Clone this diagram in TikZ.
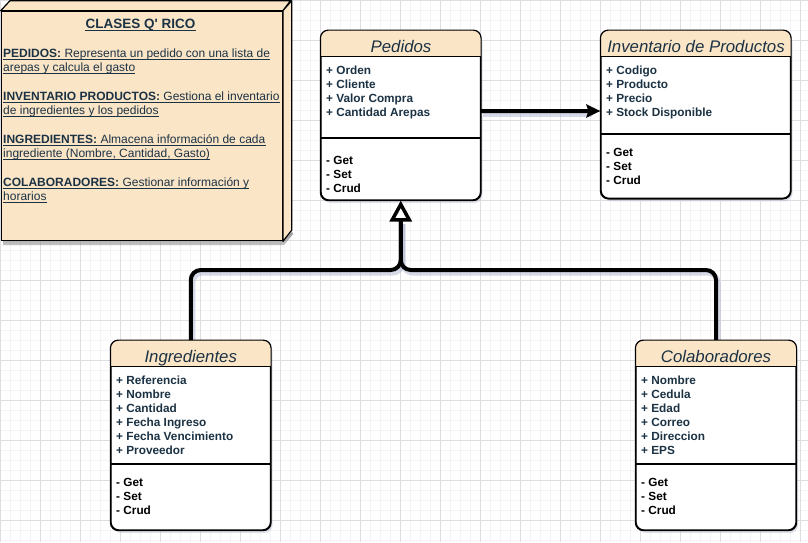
\documentclass[tikz,border=0pt]{standalone}
\usepackage{fontspec}
\setmainfont{Liberation Sans}
\usetikzlibrary{arrows.meta,shadows}
\definecolor{peach}{RGB}{251,229,199}
\definecolor{ink}{RGB}{27,50,68}
\definecolor{gridminor}{RGB}{244,244,247}
\definecolor{gridmajor}{RGB}{222,222,226}
\definecolor{shade}{RGB}{165,172,200}
\tikzset{
  classbox/.style={draw=black, line width=1.2pt, rounded corners=8pt, fill=white, inner sep=0pt,
    drop shadow={shadow xshift=2pt, shadow yshift=-3pt, fill=shade, opacity=0.35}},
  outline/.style={draw=black, line width=1.2pt, rounded corners=8pt},
  divider/.style={draw=black, line width=1.2pt},
  sepline/.style={draw=black, line width=1.8pt},
  attr/.style={font=\fontsize{11.8}{14}\selectfont\bfseries, text=ink, inner sep=0pt, anchor=base west},
  meth/.style={font=\fontsize{11.8}{14}\selectfont\bfseries, text=black, inner sep=0pt, anchor=base west},
  ctitle/.style={font=\fontsize{16.8}{20}\selectfont\itshape, text=ink, inner sep=0pt, anchor=base},
  notetxt/.style={font=\fontsize{12}{14}\selectfont, text=ink, inner sep=0pt, anchor=base west},
  notetitle/.style={font=\fontsize{13.5}{16}\selectfont\bfseries, text=ink, inner sep=0pt, anchor=base},
  uline/.style={draw=ink, line width=0.9pt},
  conn/.style={draw=black, line width=4pt, rounded corners=10pt},
  connshadow/.style={draw=shade, line width=5pt, rounded corners=10pt, opacity=0.45,
    transform canvas={shift={(2pt,-3pt)}}},
  notebox/.style={draw=black, line width=1.2pt, fill=peach, inner sep=0pt}
}
\begin{document}
\begin{tikzpicture}[x=1pt,y=-1pt]
\useasboundingbox (0,0) rectangle (808,542);
% background grid
\fill[white] (0,0) rectangle (808,542);
\foreach \x in {0,10,...,800} \draw[gridminor, line width=0.8pt] (\x,0) -- (\x,542);
\foreach \y in {0,10,...,540} \draw[gridminor, line width=0.8pt] (0,\y) -- (808,\y);
\foreach \x in {0,40,...,800} \draw[gridmajor, line width=0.8pt] (\x,0) -- (\x,542);
\foreach \y in {0,40,...,520} \draw[gridmajor, line width=0.8pt] (0,\y) -- (808,\y);

% ---------- note (3D box) ----------
\fill[shade, opacity=0.35] (3,240) -- (284,240) -- (292,232) -- (293,234) -- (284,245) -- (3,245) -- cycle;
\node[notebox, minimum width=281pt, minimum height=229.5pt, anchor=north west] (note) at (0.7,10.7) {};
\filldraw[fill=peach, draw=black, line width=1.2pt, line join=round]
  (note.north west) -- ++(9.3,-10) -- ++(280.5,0) -- (note.north east) -- cycle;
\filldraw[fill=peach, draw=black, line width=1.2pt, line join=round]
  (note.north east) -- ++(8.8,-10) -- ++(0,229.5) -- (note.south east) -- cycle;

\node[notetitle] (nt) at (140.5,28) {CLASES Q\textquotesingle{} RICO};
\draw[uline] ([yshift=-2pt]nt.base west) -- ([yshift=-2pt]nt.base east);

\node[notetxt] (n1) at (3,57) {\textbf{PEDIDOS:} Representa un pedido con una lista de};
\node[notetxt] (n2) at (3,71) {arepas y calcula el gasto};
\node[notetxt] (n3) at (3,100) {\textbf{INVENTARIO PRODUCTOS:} Gestiona el inventario};
\node[notetxt] (n4) at (3,114) {de ingredientes y los pedidos};
\node[notetxt] (n5) at (3,143) {\textbf{INGREDIENTES:} Almacena información de cada};
\node[notetxt] (n6) at (3,157) {ingrediente (Nombre, Cantidad, Gasto)};
\node[notetxt] (n7) at (3,186.5) {\textbf{COLABORADORES:} Gestionar información y};
\node[notetxt] (n8) at (3,200.5) {horarios\ };
\foreach \n in {n1,n2,n3,n4,n5,n6,n7,n8}
  \draw[uline] ([yshift=-2pt]\n.base west) -- ([yshift=-2pt]\n.base east);

% ---------- connector shadows ----------
\path (400.75,200) ++(0,70) coordinate (bus);
\draw[connshadow] (190.75,341) |- (bus) -- (400.75,221);
\draw[connshadow] (716,341) |- (bus) -- (400.75,221);
\draw[connshadow] (481,111) -- (590,111);

% ---------- class Pedidos ----------
\node[classbox, minimum width=159.5pt, minimum height=169.3pt] (ped) at (400.75,115.35) {};
\begin{scope}
  \clip[rounded corners=8pt] (ped.north west) rectangle (ped.south east);
  \fill[peach] (ped.north west) rectangle ([yshift=-26pt]ped.north east);
\end{scope}
\draw[divider] ([yshift=-26pt]ped.north west) -- ([yshift=-26pt]ped.north east);
\draw[sepline] ([yshift=-107.6pt]ped.north west) -- ([yshift=-107.6pt]ped.north east);
\draw[outline] (ped.north west) rectangle (ped.south east);
\node[ctitle] (pedT) at (401,52) {Pedidos};
\foreach \t [count=\i] in {+ Orden, + Cliente, + Valor Compra, + Cantidad Arepas}
  \node[attr] (pedA\i) at (326,{60+14*\i}) {\t};
\foreach \t [count=\i] in {- Get, - Set, - Crud}
  \node[meth] (pedM\i) at (326,{150+14*\i}) {\t};

% ---------- class Inventario de Productos ----------
\node[classbox, minimum width=189.5pt, minimum height=167.6pt] (inv) at (695.75,114.5) {};
\begin{scope}
  \clip[rounded corners=8pt] (inv.north west) rectangle (inv.south east);
  \fill[peach] (inv.north west) rectangle ([yshift=-26pt]inv.north east);
\end{scope}
\draw[divider] ([yshift=-26pt]inv.north west) -- ([yshift=-26pt]inv.north east);
\draw[sepline] ([yshift=-103.6pt]inv.north west) -- ([yshift=-103.6pt]inv.north east);
\draw[outline] (inv.north west) rectangle (inv.south east);
\node[ctitle] (invT) at (696,52) {Inventario de Productos};
\foreach \t [count=\i] in {+ Codigo, + Producto, + Precio, + Stock Disponible}
  \node[attr] (invA\i) at (606,{60+14*\i}) {\t};
\foreach \t [count=\i] in {- Get, - Set, - Crud}
  \node[meth] (invM\i) at (606,{142+14*\i}) {\t};

% ---------- class Ingredientes ----------
\node[classbox, minimum width=159.5pt, minimum height=189.3pt] (ing) at (190.75,435.35) {};
\begin{scope}
  \clip[rounded corners=8pt] (ing.north west) rectangle (ing.south east);
  \fill[peach] (ing.north west) rectangle ([yshift=-26pt]ing.north east);
\end{scope}
\draw[divider] ([yshift=-26pt]ing.north west) -- ([yshift=-26pt]ing.north east);
\draw[sepline] ([yshift=-123.6pt]ing.north west) -- ([yshift=-123.6pt]ing.north east);
\draw[outline] (ing.north west) rectangle (ing.south east);
\node[ctitle] (ingT) at (190.75,362) {Ingredientes};
\foreach \t [count=\i] in {+ Referencia, + Nombre, + Cantidad, + Fecha Ingreso, + Fecha Vencimiento, + Proveedor}
  \node[attr] (ingA\i) at (116,{370+14*\i}) {\t};
\foreach \t [count=\i] in {- Get, - Set, - Crud}
  \node[meth] (ingM\i) at (116,{472+14*\i}) {\t};

% ---------- class Colaboradores ----------
\node[classbox, minimum width=160pt, minimum height=189.3pt] (col) at (716,435.35) {};
\begin{scope}
  \clip[rounded corners=8pt] (col.north west) rectangle (col.south east);
  \fill[peach] (col.north west) rectangle ([yshift=-26pt]col.north east);
\end{scope}
\draw[divider] ([yshift=-26pt]col.north west) -- ([yshift=-26pt]col.north east);
\draw[sepline] ([yshift=-123.6pt]col.north west) -- ([yshift=-123.6pt]col.north east);
\draw[outline] (col.north west) rectangle (col.south east);
\node[ctitle] (colT) at (716,362) {Colaboradores};
\foreach \t [count=\i] in {+ Nombre, + Cedula, + Edad, + Correo, + Direccion, + EPS}
  \node[attr] (colA\i) at (641,{370+14*\i}) {\t};
\foreach \t [count=\i] in {- Get, - Set, - Crud}
  \node[meth] (colM\i) at (641,{472+14*\i}) {\t};

% ---------- connectors ----------
\draw[conn] (col.north) |- (bus) -- ([yshift=-20pt]ped.south);
\draw[conn, -{Triangle[fill=white, length=21pt, width=22pt, line width=3.5pt]}]
  (ing.north) |- (bus) -- (ped.south);
\draw[conn, rounded corners=0pt, -{Stealth[length=14pt, width=13pt, inset=2pt]}]
  ([yshift=4.3pt]ped.east) -- ([yshift=3.5pt]inv.west);
\end{tikzpicture}
\end{document}
